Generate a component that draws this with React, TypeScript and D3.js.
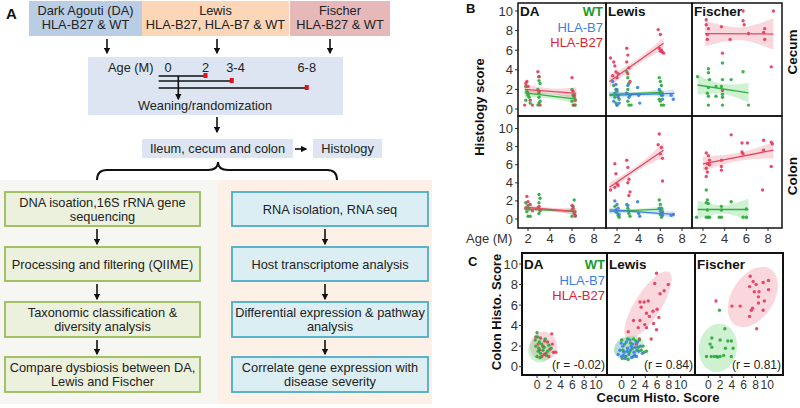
import React from 'react';
import * as d3 from 'd3';

const FONT = "'Liberation Sans', Arial, Helvetica, sans-serif";
const W = 800;
const H = 408;

// ---------------- Panel A (workflow) ----------------
const topBoxLabels = [
  ['Dark Agouti (DA)', 'HLA-B27 & WT'],
  ['Lewis', 'HLA-B27, HLA-B7 & WT'],
  ['Fischer', 'HLA-B27 & WT'],
];
const topBoxFills = ['#b9cde5', '#fcd6b6', '#e6b9b8'];
const ageLabels = ['0', '2', '3-4', '6-8'];
const ageLabelAges = [0, 2, 3.6, 7.4];
const timelineEnds = [2, 3.4, 7.4];
const weaningAge = 0.55;
const leftSteps = [
  ['DNA isoation,16S rRNA gene', 'sequencing'],
  ['Processing and filtering (QIIME)'],
  ['Taxonomic classification &', 'diversity analysis'],
  ['Compare dysbiosis between DA,', 'Lewis and Fischer'],
];
const rightSteps = [
  ['RNA isolation, RNA seq'],
  ['Host transcriptome analysis'],
  ['Differential expression & pathway', 'analysis'],
  ['Correlate gene expression with', 'disease severity'],
];

// ---------------- Panel B / C shared ----------------
const strains = ['DA', 'Lewis', 'Fischer'];
const tissues = ['Cecum', 'Colon'];
const groups = ['WT', 'HLA-B7', 'HLA-B27'];
const groupText = { WT: '#1c9a2a', 'HLA-B7': '#3d7fe0', 'HLA-B27': '#e8202c' };
const groupPoint = { WT: '#2aa838', 'HLA-B7': '#3b7fe0', 'HLA-B27': '#e23a5c' };
const groupLine = { WT: '#33b040', 'HLA-B7': '#3b7fe0', 'HLA-B27': '#e04a60' };
const groupFill = { WT: '#5ccf6a', 'HLA-B7': '#7aaaf0', 'HLA-B27': '#f07a90' };
const ageTicks = [2, 4, 6, 8];
const scoreTicks = [0, 2, 4, 6, 8, 10];
const cecumScoreTicks = [0, 2, 4, 6, 8, 10];
const rValues = ['-0.02', '0.84', '0.81'];

// Panel B points [age (months), histology score]
const cecumDA_WT = [[1.8,2.3],[1.9,1.8],[2.0,1.4],[2.1,1.2],[1.8,0.9],[2.2,0.6],[2.0,1.6],[3.0,3.3],[3.0,2.9],[3.1,2.6],[2.9,2.0],[3.0,1.6],[3.0,1.2],[3.1,0.8],[2.9,0.4],[3.0,0.6],[6.0,2.0],[6.1,1.4],[6.2,1.2],[6.0,0.8],[6.3,0.4],[6.1,0.4]];
const cecumDA_B27 = [[1.8,2.6],[1.9,2.8],[2.0,2.3],[1.7,0.4],[2.2,0.9],[2.4,0.4],[2.9,3.8],[3.0,3.3],[3.0,1.8],[3.1,0.4],[6.0,3.2],[6.1,1.8],[6.2,1.4],[6.3,0.9],[6.2,0.4]];
const cecumLewis_WT = [[1.7,2.4],[1.9,2.0],[2.0,1.8],[2.1,1.4],[1.8,1.2],[2.2,1.0],[2.0,0.4],[1.9,0.6],[2.9,3.8],[3.0,3.2],[3.1,2.6],[3.0,2.0],[2.9,1.6],[3.2,1.4],[3.0,0.8],[3.1,0.4],[3.3,0.4],[5.9,3.2],[6.0,2.8],[6.1,2.4],[6.0,1.8],[6.2,1.4],[5.9,1.0],[6.0,0.8],[6.1,0.4],[6.3,0.4]];
const cecumLewis_B7 = [[1.6,2.8],[1.9,2.5],[2.0,2.0],[1.8,1.6],[2.1,1.2],[1.7,0.8],[2.0,0.4],[2.2,0.6],[3.0,2.4],[2.9,1.6],[3.1,1.2],[3.9,2.2],[4.0,1.4],[4.1,0.6],[5.9,2.0],[6.0,1.6],[6.1,1.4],[6.2,1.0],[7.0,1.4],[7.2,1.0]];
const cecumLewis_B27 = [[1.4,5.2],[1.7,4.8],[1.8,4.4],[1.9,3.8],[1.6,3.4],[2.0,3.2],[2.1,3.6],[2.9,6.2],[3.0,5.5],[2.9,4.8],[3.1,4.2],[3.0,3.6],[3.2,2.8],[5.8,8.1],[6.0,7.6],[5.9,6.2],[6.1,6.0],[6.2,5.8],[6.3,5.7],[6.0,5.9]];
const cecumFischer_WT = [[1.5,3.3],[2.5,4.1],[2.5,3.7],[2.6,3.0],[2.5,2.2],[2.4,1.6],[2.5,1.3],[2.5,0.4],[3.8,4.7],[3.8,3.0],[3.7,2.3],[3.8,1.5],[3.8,1.2],[3.8,0.4],[3.2,1.3],[4.6,3.0],[5.7,3.8],[6.2,0.4],[3.2,2.3]];
const cecumFischer_B27 = [[2.3,9.1],[2.3,8.6],[2.5,8.2],[2.4,7.6],[2.4,7.1],[3.7,8.4],[4.5,7.1],[5.7,10.0],[5.7,9.0],[5.8,8.6],[6.2,7.7],[7.7,8.2],[7.6,7.8],[7.7,7.1],[8.5,10.0],[8.3,4.3],[3.8,5.7],[3.8,1.9]];
const colonDA_WT = [[1.8,1.8],[2.0,1.5],[2.1,1.1],[1.9,0.8],[2.2,0.3],[2.0,0.3],[3.0,2.7],[3.1,2.3],[3.0,1.8],[2.9,1.2],[3.1,0.9],[3.0,0.6],[6.2,2.1],[6.1,1.4],[6.0,1.0],[6.2,0.6],[6.0,0.3],[6.3,0.3]];
const colonDA_B27 = [[1.9,2.5],[2.0,1.9],[2.2,1.6],[1.8,1.2],[2.4,0.9],[3.0,1.4],[3.1,1.0],[6.0,1.5],[6.1,1.2],[6.2,0.8],[6.3,0.4]];
const colonLewis_WT = [[1.8,1.4],[1.9,1.0],[2.0,0.7],[2.1,0.4],[2.2,0.2],[2.9,1.6],[3.0,1.2],[3.1,0.6],[3.2,0.3],[5.9,2.1],[6.0,1.6],[6.1,1.2],[6.2,0.8],[6.0,0.5],[6.1,0.2]];
const colonLewis_B7 = [[1.8,2.0],[2.0,1.6],[2.1,1.2],[1.9,0.8],[2.2,0.5],[3.0,1.5],[3.1,0.9],[3.9,1.9],[4.0,0.6],[4.1,0.3],[5.9,1.2],[6.0,0.9],[6.1,0.6],[6.2,0.4],[7.0,0.4],[7.2,0.5]];
const colonLewis_B27 = [[1.4,3.2],[1.8,6.1],[1.9,5.0],[2.0,3.9],[2.1,3.7],[1.8,3.5],[2.9,6.5],[3.0,5.7],[3.1,4.4],[3.0,4.0],[3.2,3.0],[3.1,2.6],[5.9,9.4],[5.8,8.2],[6.1,7.9],[6.0,7.2],[6.2,6.7],[6.2,4.2]];
const colonFischer_WT = [[2.3,3.2],[2.4,2.1],[2.3,1.8],[2.5,1.7],[2.4,1.0],[2.3,0.2],[2.5,0.2],[3.7,1.4],[3.7,1.0],[3.7,0.2],[3.5,0.2],[4.6,1.9],[6.0,1.1],[6.0,0.2],[5.7,0.2],[1.4,0.2],[2.6,0.2]];
const colonFischer_B27 = [[2.3,7.3],[2.5,7.0],[2.6,6.5],[2.4,6.1],[2.3,5.6],[2.4,5.2],[2.3,4.7],[3.7,6.5],[3.7,5.8],[3.7,5.4],[4.6,9.3],[5.6,8.4],[6.1,8.4],[5.6,7.4],[5.7,7.2],[7.6,8.7],[7.6,7.6],[8.3,8.5],[8.4,8.3],[8.3,5.8],[7.5,3.2],[2.6,6.0]];

// Fitted lines: [ageStart, ageEnd, scoreStart, scoreEnd, ciStart, ciMin, ciEnd]
const fitCecumDA_WT = [1.7, 6.4, 1.65, 1.0, 0.45, 0.25, 0.5];
const fitCecumDA_B27 = [1.7, 6.4, 2.0, 1.6, 0.55, 0.3, 0.6];
const fitCecumLewis_WT = [1.3, 6.3, 1.5, 1.7, 0.3, 0.15, 0.3];
const fitCecumLewis_B7 = [1.3, 7.3, 1.4, 1.6, 0.35, 0.2, 0.4];
const fitCecumLewis_B27 = [1.3, 6.3, 2.8, 6.7, 0.6, 0.3, 0.6];
const fitCecumFischer_WT = [1.5, 6.2, 2.45, 1.65, 1.0, 0.5, 1.0];
const fitCecumFischer_B27 = [2.2, 8.5, 7.7, 7.65, 1.3, 0.65, 1.6];
const fitColonDA_WT = [1.7, 6.4, 1.1, 0.85, 0.3, 0.15, 0.35];
const fitColonDA_B27 = [1.7, 6.4, 1.3, 0.8, 0.35, 0.2, 0.4];
const fitColonLewis_WT = [1.3, 6.3, 0.85, 1.1, 0.3, 0.15, 0.3];
const fitColonLewis_B7 = [1.3, 7.3, 1.0, 0.5, 0.3, 0.15, 0.35];
const fitColonLewis_B27 = [1.3, 6.3, 3.5, 7.6, 0.5, 0.3, 0.8];
const fitColonFischer_WT = [1.5, 6.2, 1.05, 1.05, 1.0, 0.45, 1.2];
const fitColonFischer_B27 = [2.0, 8.5, 6.1, 7.6, 0.8, 0.45, 0.9];

// Panel C points [cecum score, colon score]
const corrDA_WT = [[0,3.3],[0.1,2.9],[-0.3,2.6],[0.4,2.4],[0.8,2.2],[-0.2,2.0],[0.3,1.8],[1.0,1.6],[0.6,1.3],[0,1.0],[1.4,2.7],[1.2,1.9],[1.8,1.5],[0.5,0.9],[2.0,2.1],[1.6,1.1],[0.2,1.5],[2.4,1.8]];
const corrDA_B27 = [[-0.2,2.9],[0.6,2.8],[1.3,2.5],[2.5,3.2],[1.8,2.4],[0.2,2.2],[1.0,2.0],[2.2,1.7],[2.8,1.4],[3.2,1.4],[1.5,1.3],[0.8,1.0],[2.0,1.0],[1.2,1.2],[0.4,1.6],[2.6,2.2]];
const corrLewis_WT = [[0,2.6],[0.5,2.2],[1.0,2.7],[1.5,2.3],[2.0,2.7],[2.4,2.5],[3.0,2.6],[0.2,1.6],[0.7,1.0],[1.3,1.4],[1.8,1.8],[2.6,1.6],[3.3,1.6],[3.8,1.4],[4.2,1.5],[0.1,0.8],[1.1,0.7],[2.0,1.0],[2.8,1.9],[3.6,2.0]];
const corrLewis_B7 = [[-0.6,1.2],[-0.3,1.6],[0,1.0],[0.2,2.0],[0.4,1.4],[0.6,0.8],[0.8,2.4],[1.0,1.8],[1.2,1.2],[1.4,2.6],[1.5,1.6],[1.7,0.9],[1.9,2.2],[2.1,1.4],[2.3,1.9],[2.5,1.0],[2.7,2.4],[2.9,1.5],[3.2,2.0],[3.5,1.3],[0.3,1.1],[0.9,1.5],[1.6,2.0],[2.2,1.1],[-0.1,2.3]];
const corrLewis_B27 = [[5.9,9.1],[7.9,8.0],[5.6,8.1],[6.5,7.1],[7.2,7.4],[3.1,6.3],[3.8,6.3],[3.3,5.8],[4.2,5.2],[5.3,5.4],[4.7,4.9],[2.0,4.5],[3.1,4.5],[3.9,4.1],[5.4,4.2],[6.3,4.8],[1.1,3.4],[2.8,3.8],[4.2,3.8],[5.9,3.6],[3.0,2.7],[5.0,2.7],[2.5,2.2],[4.5,6.4],[6.0,5.6]];
const corrFischer_WT = [[1.9,5.5],[2.8,3.7],[0.6,2.8],[0.3,2.2],[2.0,2.6],[3.3,2.5],[3.9,2.5],[2.9,1.8],[4.2,1.8],[0.6,1.9],[-0.3,1.0],[0.5,1.0],[1.0,1.0],[1.4,1.0],[2.0,1.0],[2.6,1.1],[3.9,1.0],[1.6,0.95]];
const corrFischer_B27 = [[7.1,8.8],[7.6,8.3],[7.0,7.8],[8.1,8.0],[9.3,8.2],[10.2,8.4],[7.8,7.3],[8.6,7.3],[8.5,6.8],[10.2,7.5],[8.5,6.2],[9.5,6.4],[7.5,5.7],[7.3,5.5],[9.3,5.5],[4.0,5.9],[5.4,5.9],[7.0,4.9],[8.2,3.7],[1.3,6.4]];

// Ellipses [cx, cy, majorX, majorY, minorX, minorY] in data units
const ellDA_WT = [0.5, 1.6, 2.0, 0, 0, 1.2];
const ellDA_B27 = [1.1, 2.0, 2.3, 0, 0, 1.4];
const ellLewis_WT = [1.2, 1.9, 2.5, 0.45, -0.5, 1.05];
const ellLewis_B7 = [0.9, 1.8, 2.1, 0.35, -0.4, 1.0];
const ellLewis_B27 = [4.46, 6.0, 3.56, 3.21, 1.86, -0.68];
const ellFischer_WT = [1.64, 1.83, 0.5, 2.34, 3.2, -0.2];
const ellFischer_B27 = [7.54, 6.79, 3.0, 2.72, 3.0, -1.1];

// ---------------- assembled tables ----------------
const panelB = [
  { tissue: 'Cecum', strain: 'DA', group: 'WT', pts: cecumDA_WT, fit: fitCecumDA_WT },
  { tissue: 'Cecum', strain: 'DA', group: 'HLA-B27', pts: cecumDA_B27, fit: fitCecumDA_B27 },
  { tissue: 'Cecum', strain: 'Lewis', group: 'WT', pts: cecumLewis_WT, fit: fitCecumLewis_WT },
  { tissue: 'Cecum', strain: 'Lewis', group: 'HLA-B7', pts: cecumLewis_B7, fit: fitCecumLewis_B7 },
  { tissue: 'Cecum', strain: 'Lewis', group: 'HLA-B27', pts: cecumLewis_B27, fit: fitCecumLewis_B27 },
  { tissue: 'Cecum', strain: 'Fischer', group: 'WT', pts: cecumFischer_WT, fit: fitCecumFischer_WT },
  { tissue: 'Cecum', strain: 'Fischer', group: 'HLA-B27', pts: cecumFischer_B27, fit: fitCecumFischer_B27 },
  { tissue: 'Colon', strain: 'DA', group: 'WT', pts: colonDA_WT, fit: fitColonDA_WT },
  { tissue: 'Colon', strain: 'DA', group: 'HLA-B27', pts: colonDA_B27, fit: fitColonDA_B27 },
  { tissue: 'Colon', strain: 'Lewis', group: 'WT', pts: colonLewis_WT, fit: fitColonLewis_WT },
  { tissue: 'Colon', strain: 'Lewis', group: 'HLA-B7', pts: colonLewis_B7, fit: fitColonLewis_B7 },
  { tissue: 'Colon', strain: 'Lewis', group: 'HLA-B27', pts: colonLewis_B27, fit: fitColonLewis_B27 },
  { tissue: 'Colon', strain: 'Fischer', group: 'WT', pts: colonFischer_WT, fit: fitColonFischer_WT },
  { tissue: 'Colon', strain: 'Fischer', group: 'HLA-B27', pts: colonFischer_B27, fit: fitColonFischer_B27 },
];
const panelC = [
  { strain: 'DA', group: 'HLA-B27', pts: corrDA_B27, ell: ellDA_B27 },
  { strain: 'DA', group: 'WT', pts: corrDA_WT, ell: ellDA_WT },
  { strain: 'Lewis', group: 'HLA-B27', pts: corrLewis_B27, ell: ellLewis_B27 },
  { strain: 'Lewis', group: 'WT', pts: corrLewis_WT, ell: ellLewis_WT },
  { strain: 'Lewis', group: 'HLA-B7', pts: corrLewis_B7, ell: ellLewis_B7 },
  { strain: 'Fischer', group: 'HLA-B27', pts: corrFischer_B27, ell: ellFischer_B27 },
  { strain: 'Fischer', group: 'WT', pts: corrFischer_WT, ell: ellFischer_WT },
];

// ---------------- layout ----------------
const bColEdges = [518, 606, 692, 782];
const bAgeRange = [[528, 594], [617, 682], [703, 768]];
const bRowEdges = [3, 116, 228];
const bScoreRange = [[109, 11], [219, 128.5]];
const cColEdges = [522, 607, 695, 783];
const cTop = 253;
const cBottom = 375;
const cZero = [537, 621.7, 708.3];

function ribbonPath(fit, xs, ys) {
  const [x0, x1, y0, y1, c0, cm, c1] = fit;
  const pts = d3.range(41).map((i) => {
    const t = i / 40;
    const hw = t < 0.5
      ? Math.sqrt(cm * cm + (c0 * c0 - cm * cm) * (1 - 2 * t) ** 2)
      : Math.sqrt(cm * cm + (c1 * c1 - cm * cm) * (2 * t - 1) ** 2);
    return { x: x0 + (x1 - x0) * t, y: y0 + (y1 - y0) * t, hw };
  });
  return d3.area().x((d) => xs(d.x)).y0((d) => ys(d.y - d.hw)).y1((d) => ys(d.y + d.hw))(pts);
}

function ellipsePath(e, xs, ys) {
  const [cx, cy, ax, ay, bx, by] = e;
  const pts = d3.range(72).map((i) => {
    const t = (i / 72) * Math.PI * 2;
    return [xs(cx + ax * Math.cos(t) + bx * Math.sin(t)), ys(cy + ay * Math.cos(t) + by * Math.sin(t))];
  });
  return d3.line().curve(d3.curveCardinalClosed)(pts);
}

function Arrow({ x1, y1, x2, y2, w = 1.6 }) {
  return <line x1={x1} y1={y1} x2={x2} y2={y2} stroke="#111" strokeWidth={w} markerEnd="url(#arrowHead)" />;
}

function PanelA() {
  const ageX = d3.scaleLinear().domain([0, 2]).range([168, 205.5]);
  const topX = [[29, 142], [142, 289], [290, 390]];
  const arrowX = [107, 217, 330];
  const rows = [[192, 226], [247, 281], [302, 337], [357, 392]];
  const txt = { fontFamily: FONT, fontSize: 12.8, fill: '#222' };
  const stepBox = (lines, x0, x1, r, fill, stroke, key) => {
    const cy = (r[0] + r[1]) / 2;
    const cx = (x0 + x1) / 2;
    return (
      <g key={key}>
        <rect x={x0} y={r[0]} width={x1 - x0} height={r[1] - r[0]} fill={fill} stroke={stroke} strokeWidth={1.8} />
        {lines.map((l, i) => (
          <text key={i} x={cx} y={cy + 4.5 + (i - (lines.length - 1) / 2) * 14} textAnchor="middle" {...txt}>{l}</text>
        ))}
      </g>
    );
  };
  return (
    <g>
      <text x={6} y={19} fontFamily={FONT} fontWeight="bold" fontSize={15} fill="#111">A</text>
      {topBoxLabels.map((lines, i) => (
        <g key={i}>
          <rect x={topX[i][0]} y={1} width={topX[i][1] - topX[i][0]} height={35} fill={topBoxFills[i]} />
          {lines.map((l, j) => (
            <text key={j} x={(topX[i][0] + topX[i][1]) / 2} y={15 + j * 14} textAnchor="middle" {...txt}>{l}</text>
          ))}
          <Arrow x1={arrowX[i]} y1={39} x2={arrowX[i]} y2={53} />
        </g>
      ))}
      <rect x={88} y={57} width={255} height={58} fill="#dce5f1" />
      <text x={108} y={72} {...txt}>Age (M)</text>
      {ageLabels.map((l, i) => (
        <text key={l} x={ageX(ageLabelAges[i])} y={72} textAnchor="middle" {...txt}>{l}</text>
      ))}
      {timelineEnds.map((e, i) => (
        <g key={i}>
          <line x1={ageX(-0.5)} x2={ageX(e)} y1={76 + i * 5 + (i === 2 ? 2 : 0)} y2={76 + i * 5 + (i === 2 ? 2 : 0)} stroke="#111" strokeWidth={1.6} />
          <rect x={ageX(e) - 2} y={73 + i * 5 + (i === 2 ? 2 : 0)} width={4} height={5} fill="#e8101c" />
        </g>
      ))}
      <Arrow x1={ageX(weaningAge)} y1={76} x2={ageX(weaningAge)} y2={99} />
      <text x={205} y={110} textAnchor="middle" {...txt}>Weaning/randomization</text>
      <Arrow x1={217} y1={117} x2={217} y2={132} />
      <rect x={142} y={139} width={151} height={19} fill="#dce5f1" />
      <text x={217.5} y={153} textAnchor="middle" {...txt}>Ileum, cecum and colon</text>
      <Arrow x1={295} y1={149} x2={306} y2={149} />
      <rect x={313} y={139} width={69} height={19} fill="#dce5f1" />
      <text x={347.5} y={153} textAnchor="middle" {...txt}>Histology</text>
      <path d="M97,180 Q97,170 107,170 L208,170 Q218,170 218,162 Q218,170 228,170 L327,170 Q337,170 337,180" fill="none" stroke="#111" strokeWidth={2} />
      <rect x={0} y={180} width={217} height={224} fill="#f6f6f3" />
      <rect x={217} y={180} width={215} height={224} fill="#fdf1e7" />
      {leftSteps.map((lines, i) => stepBox(lines, 5, 200, rows[i], '#ebf1dd', '#9bbb59', 'l' + i))}
      {rightSteps.map((lines, i) => stepBox(lines, 232, 428, rows[i], '#dbeef4', '#4bacc6', 'r' + i))}
      {[0, 1, 2].map((i) => (
        <g key={i}>
          <Arrow x1={97} y1={rows[i][1] + 3} x2={97} y2={rows[i + 1][0] - 3} />
          <Arrow x1={325} y1={rows[i][1] + 3} x2={325} y2={rows[i + 1][0] - 3} />
        </g>
      ))}
    </g>
  );
}

function PanelB() {
  const tick = { fontFamily: FONT, fontSize: 13, fill: '#333' };
  return (
    <g>
      <text x={466} y={13} fontFamily={FONT} fontWeight="bold" fontSize={13} fill="#111">B</text>
      <defs>
        {tissues.map((t, r) => strains.map((s, c) => (
          <clipPath key={t + s} id={`clipB-${r}-${c}`}>
            <rect x={bColEdges[c]} y={bRowEdges[r]} width={bColEdges[c + 1] - bColEdges[c]} height={bRowEdges[r + 1] - bRowEdges[r]} />
          </clipPath>
        )))}
      </defs>
      {tissues.map((t, r) => {
        const ys = d3.scaleLinear().domain([0, 10]).range(bScoreRange[r]);
        return strains.map((s, c) => {
          const xs = d3.scaleLinear().domain([2, 8]).range(bAgeRange[c]);
          const items = panelB.filter((d) => d.tissue === t && d.strain === s);
          return (
            <g key={t + s}>
              <g clipPath={`url(#clipB-${r}-${c})`}>
                {items.map((d) => (
                  <path key={'rb' + d.group} d={ribbonPath(d.fit, xs, ys)} fill={groupFill[d.group]} opacity={0.3} />
                ))}
                {items.map((d) => (
                  <g key={'p' + d.group}>
                    {d.pts.map((p, i) => (
                      <circle key={i} cx={xs(p[0])} cy={ys(p[1])} r={1.7} fill={groupPoint[d.group]} opacity={0.9} />
                    ))}
                  </g>
                ))}
                {items.map((d) => (
                  <line key={'ln' + d.group} x1={xs(d.fit[0])} x2={xs(d.fit[1])} y1={ys(d.fit[2])} y2={ys(d.fit[3])} stroke={groupLine[d.group]} strokeWidth={1.3} />
                ))}
              </g>
              {r === 1 && ageTicks.map((a) => (
                <g key={a}>
                  <line x1={xs(a)} x2={xs(a)} y1={bRowEdges[2]} y2={bRowEdges[2] + 3} stroke="#333" />
                  <text x={xs(a)} y={243} textAnchor="middle" {...tick}>{a}</text>
                </g>
              ))}
              {c === 0 && scoreTicks.map((v) => (
                <g key={v}>
                  <line x1={bColEdges[0] - 3} x2={bColEdges[0]} y1={ys(v)} y2={ys(v)} stroke="#333" />
                  <text x={bColEdges[0] - 5} y={ys(v) + 4.5} textAnchor="end" {...tick}>{v}</text>
                </g>
              ))}
              {r === 0 && (
                <text x={bColEdges[c] + 2} y={16} fontFamily={FONT} fontWeight="bold" fontSize={13.5} fill="#111">{s}</text>
              )}
              <rect x={bColEdges[c]} y={bRowEdges[r]} width={bColEdges[c + 1] - bColEdges[c]} height={bRowEdges[r + 1] - bRowEdges[r]} fill="none" stroke="#111" strokeWidth={1.5} />
            </g>
          );
        });
      })}
      {groups.map((g, i) => (
        <text key={g} x={603} y={16 + i * 15.5} textAnchor="end" fontFamily={FONT} fontSize={13} fontWeight={g === 'WT' ? 'bold' : 'normal'} fill={groupText[g]}>{g}</text>
      ))}
      {tissues.map((t, r) => (
        <text key={t} transform={`translate(797,${r === 0 ? 52 : 176}) rotate(-90)`} textAnchor="middle" fontFamily={FONT} fontWeight="bold" fontSize={13.5} fill="#111">{t}</text>
      ))}
      <text transform="translate(484,107) rotate(-90)" textAnchor="middle" fontFamily={FONT} fontWeight="bold" fontSize={13} fill="#111">Histology  score</text>
      <text x={466} y={243} fontFamily={FONT} fontSize={13} fill="#333">Age (M)</text>
    </g>
  );
}

function PanelC() {
  const ys = d3.scaleLinear().domain([0, 10]).range([366.7, 264]);
  const tick = { fontFamily: FONT, fontSize: 12, fill: '#333' };
  return (
    <g>
      <text x={468} y={266} fontFamily={FONT} fontWeight="bold" fontSize={13} fill="#111">C</text>
      <defs>
        {strains.map((s, c) => (
          <clipPath key={s} id={`clipC-${c}`}>
            <rect x={cColEdges[c]} y={cTop} width={cColEdges[c + 1] - cColEdges[c]} height={cBottom - cTop} />
          </clipPath>
        ))}
      </defs>
      {strains.map((s, c) => {
        const xs = d3.scaleLinear().domain([0, 10]).range([cZero[c], cZero[c] + 59]);
        const items = panelC.filter((d) => d.strain === s);
        return (
          <g key={s}>
            <g clipPath={`url(#clipC-${c})`}>
              {items.map((d) => (
                <path key={'e' + d.group} d={ellipsePath(d.ell, xs, ys)} fill={groupFill[d.group]} opacity={0.3} />
              ))}
              {items.map((d) => (
                <g key={'p' + d.group}>
                  {d.pts.map((p, i) => (
                    <circle key={i} cx={xs(p[0])} cy={ys(p[1])} r={1.7} fill={groupPoint[d.group]} opacity={0.9} />
                  ))}
                </g>
              ))}
            </g>
            {cecumScoreTicks.map((v) => (
              <g key={v}>
                <line x1={xs(v)} x2={xs(v)} y1={cBottom} y2={cBottom + 3} stroke="#333" />
                <text x={xs(v)} y={388.5} textAnchor="middle" {...tick}>{v}</text>
              </g>
            ))}
            <text x={cColEdges[c] + 2} y={269} fontFamily={FONT} fontWeight="bold" fontSize={13.5} fill="#111">{s}</text>
            <text x={cColEdges[c + 1] - 2} y={369} textAnchor="end" fontFamily={FONT} fontSize={12} fill="#222">{`(r = ${rValues[c]})`}</text>
            <rect x={cColEdges[c]} y={cTop} width={cColEdges[c + 1] - cColEdges[c]} height={cBottom - cTop} fill="none" stroke="#111" strokeWidth={2} />
          </g>
        );
      })}
      {scoreTicks.map((v) => (
        <g key={v}>
          <line x1={cColEdges[0] - 3} x2={cColEdges[0]} y1={ys(v)} y2={ys(v)} stroke="#333" />
          <text x={cColEdges[0] - 4} y={ys(v) + 4.5} textAnchor="end" fontFamily={FONT} fontSize={13} fill="#333">{v}</text>
        </g>
      ))}
      {groups.map((g, i) => (
        <text key={g} x={605} y={269 + i * 15.5} textAnchor="end" fontFamily={FONT} fontSize={13} fontWeight={g === 'WT' ? 'bold' : 'normal'} fill={groupText[g]}>{g}</text>
      ))}
      <text x={658} y={402} textAnchor="middle" fontFamily={FONT} fontWeight="bold" fontSize={13} fill="#111">Cecum Histo.  Score</text>
      <text transform="translate(501,312) rotate(-90)" textAnchor="middle" fontFamily={FONT} fontWeight="bold" fontSize={13} fill="#111">Colon Histo.  Score</text>
    </g>
  );
}

export default function App() {
  return (
    <svg width={W} height={H} viewBox={`0 0 ${W} ${H}`} style={{ position: 'absolute', left: 0, top: 0, background: '#fff' }}>
      <defs>
        <marker id="arrowHead" viewBox="0 0 10 10" refX="8" refY="5" markerWidth="4" markerHeight="4" orient="auto">
          <path d="M0,0 L10,5 L0,10 z" fill="#111" />
        </marker>
      </defs>
      <rect x={0} y={0} width={W} height={H} fill="#fff" />
      <PanelA />
      <PanelB />
      <PanelC />
    </svg>
  );
}
